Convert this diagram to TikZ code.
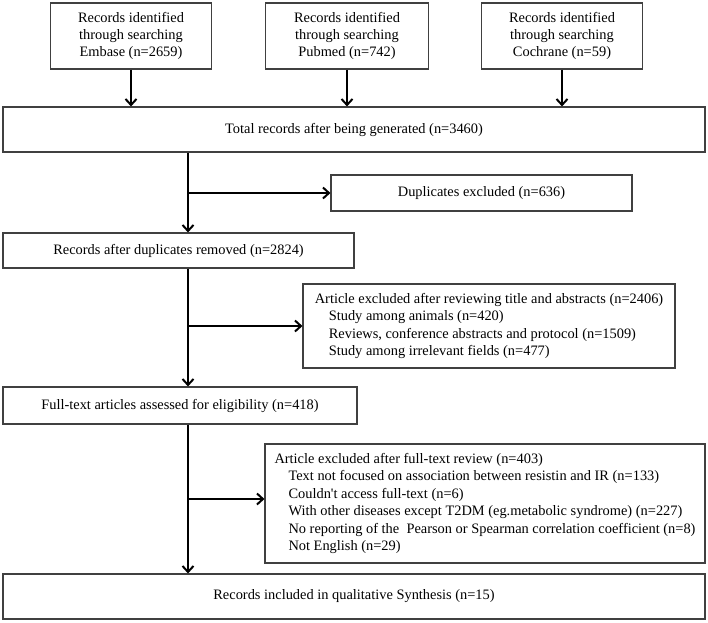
\documentclass[tikz,border=0pt]{standalone}
\usepackage{fontspec}
\setmainfont{Liberation Serif}
\usetikzlibrary{positioning,arrows.meta}

\begin{document}
\begin{tikzpicture}[x=1pt,y=-1pt,
  box/.style={draw=black!75,line width=1.1pt,inner sep=0pt,align=center,
    font=\fontsize{14.4}{17.4}\selectfont},
  exbox/.style={box,align=left},
  arr/.style={-{Straight Barb[length=6pt,width=11pt]},line width=2pt}]
  \useasboundingbox (0,0) rectangle (708,622);

  % sources
  \node[box,minimum width=161pt,minimum height=66pt] (emb) at (131,36) {Records identified\\through searching\\Embase (n=2659)};
  \node[box,minimum width=163pt,minimum height=66pt] (pub) at (347,36) {Records identified\\through searching\\Pubmed (n=742)};
  \node[box,minimum width=161pt,minimum height=66pt] (coc) at (562,36) {Records identified\\through searching\\Cochrane (n=59)};

  \node[box,minimum width=702pt,minimum height=45pt] (tot) at (354,129.5) {Total records after being generated (n=3460)};
  \node[box,minimum width=301pt,minimum height=36pt] (dup) at (481.5,193) {Duplicates excluded (n=636)};
  \node[box,minimum width=351pt,minimum height=35pt] (rec) at (178.5,250.5) {Records after duplicates removed (n=2824)};
  \node[exbox,minimum width=372pt,minimum height=84pt] (ex1) at (489,326) {Article excluded after reviewing title and abstracts (n=2406)\\
    \hspace*{14pt}Study among animals (n=420)\\
    \hspace*{14pt}Reviews, conference abstracts and protocol (n=1509)\\
    \hspace*{14pt}Study among irrelevant fields (n=477)};
  \node[box,minimum width=354pt,minimum height=37pt] (ful) at (180,405.5) {Full-text articles assessed for eligibility (n=418)};
  \node[exbox,minimum width=440pt,minimum height=119pt] (ex2) at (485,503.5) {Article excluded after full-text review (n=403)\\
    \hspace*{14pt}Text not focused on association between resistin and IR (n=133)\\
    \hspace*{14pt}Couldn\textquotesingle t access full-text (n=6)\\
    \hspace*{14pt}With other diseases except T2DM (eg.metabolic syndrome) (n=227)\\
    \hspace*{14pt}No reporting of the\ \ Pearson or Spearman correlation coefficient (n=8)\\
    \hspace*{14pt}Not English (n=29)};
  \node[box,minimum width=702pt,minimum height=45pt] (fin) at (354,596.5) {Records included in qualitative Synthesis (n=15)};

  \coordinate (tk) at (188,0);
  \coordinate (b1) at (188,193);
  \coordinate (b2) at (188,326);
  \coordinate (b3) at (188,499);

  \draw[arr] (emb.south) -- (emb.south |- tot.north);
  \draw[arr] (pub.south) -- (pub.south |- tot.north);
  \draw[arr] (coc.south) -- (coc.south |- tot.north);

  \draw[arr] (tot.south -| tk) -- (rec.north -| tk);
  \draw[arr] (b1) -- (dup.west);
  \draw[arr] (rec.south -| tk) -- (ful.north -| tk);
  \draw[arr] (b2) -- (ex1.west);
  \draw[arr] (ful.south -| tk) -- (fin.north -| tk);
  \draw[arr] (b3) -- (b3 -| ex2.west);
\end{tikzpicture}
\end{document}
